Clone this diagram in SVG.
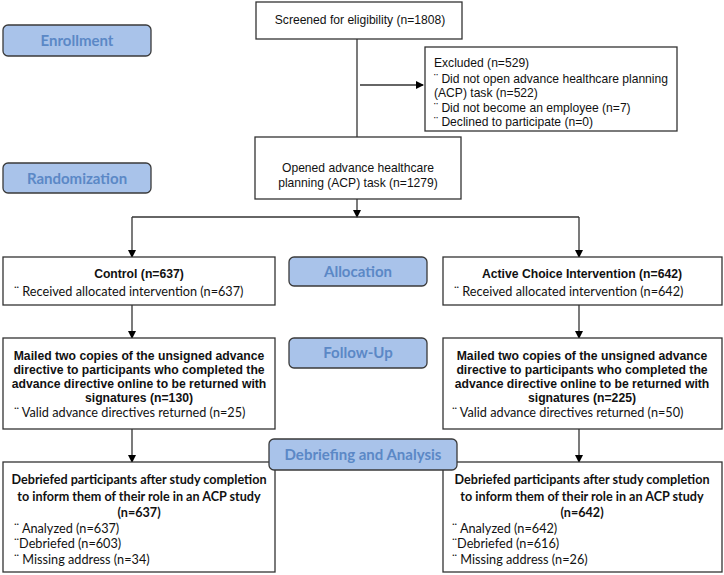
<svg xmlns="http://www.w3.org/2000/svg" width="724" height="575" viewBox="0 0 724 575">
<defs>
<marker id="ah" markerWidth="8" markerHeight="8" refX="7" refY="4" orient="auto" markerUnits="userSpaceOnUse">
<path d="M0,0 L8,4 L0,8 Z" fill="#000"/>
</marker>
<style>
.box{fill:#fff;stroke:#333;stroke-width:1.3}
.pill{fill:#a9c3ea;stroke:#3a3a3a;stroke-width:1.3}
.pt{font-family:Lato,"Open Sans",sans-serif;font-weight:bold;font-size:15px;fill:#5b88c6;text-anchor:middle}
.a{font-family:"Liberation Sans",Arial,sans-serif;font-size:12.1px;fill:#111}
.ab{font-family:"Liberation Sans",Arial,sans-serif;font-size:12.2px;font-weight:bold;fill:#111}
.c{font-family:Lato,"Open Sans",sans-serif;font-size:12.7px;fill:#111}
.cb{font-family:Lato,"Open Sans",sans-serif;font-size:12.6px;font-weight:bold;fill:#111}
.m{text-anchor:middle}
.ln{fill:none;stroke:#333;stroke-width:1.3}
</style>
</defs>
<rect width="724" height="575" fill="#fff"/>

<g id="enrollment"><rect class="pill" x="3" y="25" width="148" height="31" rx="5"/><text class="pt" x="77" y="46">Enrollment</text></g>
<g id="randomization"><rect class="pill" x="3" y="163" width="148" height="30" rx="5"/><text class="pt" x="77" y="184">Randomization</text></g>
<g id="allocation"><rect class="pill" x="289" y="257" width="138" height="29" rx="5"/><text class="pt" x="358" y="277">Allocation</text></g>
<g id="followup"><rect class="pill" x="289" y="338" width="138" height="30" rx="5"/><text class="pt" x="358" y="358">Follow-Up</text></g>

<g id="connectors">
<path class="ln" d="M357,39 V137"/>
<path class="ln" d="M360,85 H423" marker-end="url(#ah)"/>
<path class="ln" d="M357,199 V217" marker-end="url(#ah)"/>
<path class="ln" d="M132,217 H579"/>
<path class="ln" d="M132,217 V257" marker-end="url(#ah)"/>
<path class="ln" d="M579,217 V257" marker-end="url(#ah)"/>
<path class="ln" d="M132,305 V338" marker-end="url(#ah)"/>
<path class="ln" d="M579,305 V338" marker-end="url(#ah)"/>
<path class="ln" d="M132,429 V462" marker-end="url(#ah)"/>
<path class="ln" d="M579,429 V462" marker-end="url(#ah)"/>
</g>

<g id="screened"><rect class="box" x="256" y="2" width="206" height="37"/><text class="a m" x="360" y="24">Screened for eligibility (n=1808)</text></g>

<g id="excluded"><rect class="box" x="425" y="47" width="252" height="84"/>
<text class="a" x="434" y="67">Excluded (n=529)</text>
<text class="a" x="434" y="83">¨ Did not open advance healthcare planning</text>
<text class="a" x="434" y="97">(ACP) task (n=522)</text>
<text class="a" x="434" y="112">¨  Did not become an employee (n=7)</text>
<text class="a" x="434" y="126">¨  Declined to participate (n=0)</text>
</g>

<g id="opened"><rect class="box" x="255" y="137" width="206" height="62"/>
<text class="a m" x="358" y="172">Opened advance healthcare</text>
<text class="a m" x="358" y="187">planning (ACP) task (n=1279)</text>
</g>

<g id="control"><rect class="box" x="3" y="257" width="272" height="48"/>
<text class="ab m" x="139" y="278">Control (n=637)</text>
<text class="c" x="14" y="296">¨ Received allocated intervention (n=637)</text>
</g>

<g id="active"><rect class="box" x="443" y="257" width="279" height="48"/>
<text class="ab m" x="582" y="278">Active Choice Intervention (n=642)</text>
<text class="c" x="454" y="296">¨ Received allocated intervention (n=642)</text>
</g>

<g id="mailed-control"><rect class="box" x="3" y="338" width="272" height="91"/>
<text class="ab m" x="139" y="360">Mailed two copies of the unsigned advance</text>
<text class="ab m" x="139" y="374">directive to participants who completed the</text>
<text class="ab m" x="139" y="388">advance directive online to be returned with</text>
<text class="ab m" x="139" y="402">signatures (n=130)</text>
<text class="c" x="14" y="417">¨ Valid advance directives returned (n=25)</text>
</g>

<g id="mailed-active"><rect class="box" x="443" y="338" width="279" height="91"/>
<text class="ab m" x="582" y="360">Mailed two copies of the unsigned advance</text>
<text class="ab m" x="582" y="374">directive to participants who completed the</text>
<text class="ab m" x="582" y="388">advance directive online to be returned with</text>
<text class="ab m" x="582" y="402">signatures (n=225)</text>
<text class="c" x="452" y="417">¨ Valid advance directives returned (n=50)</text>
</g>

<g id="debrief-control"><rect class="box" x="3" y="462" width="272" height="110"/>
<text class="cb m" x="139" y="484">Debriefed participants after study completion</text>
<text class="cb m" x="139" y="501">to inform them of their role in an ACP study</text>
<text class="cb m" x="139" y="517">(n=637)</text>
<text class="c" x="14" y="533">¨ Analyzed (n=637)</text>
<text class="c" x="14" y="548">¨Debriefed (n=603)</text>
<text class="c" x="14" y="564">¨ Missing address (n=34)</text>
</g>

<g id="debrief-active"><rect class="box" x="443" y="462" width="279" height="110"/>
<text class="cb m" x="582" y="484">Debriefed participants after study completion</text>
<text class="cb m" x="582" y="501">to inform them of their role in an ACP study</text>
<text class="cb m" x="582" y="517">(n=642)</text>
<text class="c" x="452" y="533">¨ Analyzed (n=642)</text>
<text class="c" x="452" y="548">¨Debriefed (n=616)</text>
<text class="c" x="452" y="564">¨ Missing address (n=26)</text>
</g>

<g id="debriefing"><rect class="pill" x="269" y="439" width="188" height="31" rx="5"/><text class="pt" x="363" y="460">Debriefing and Analysis</text></g>
</svg>
